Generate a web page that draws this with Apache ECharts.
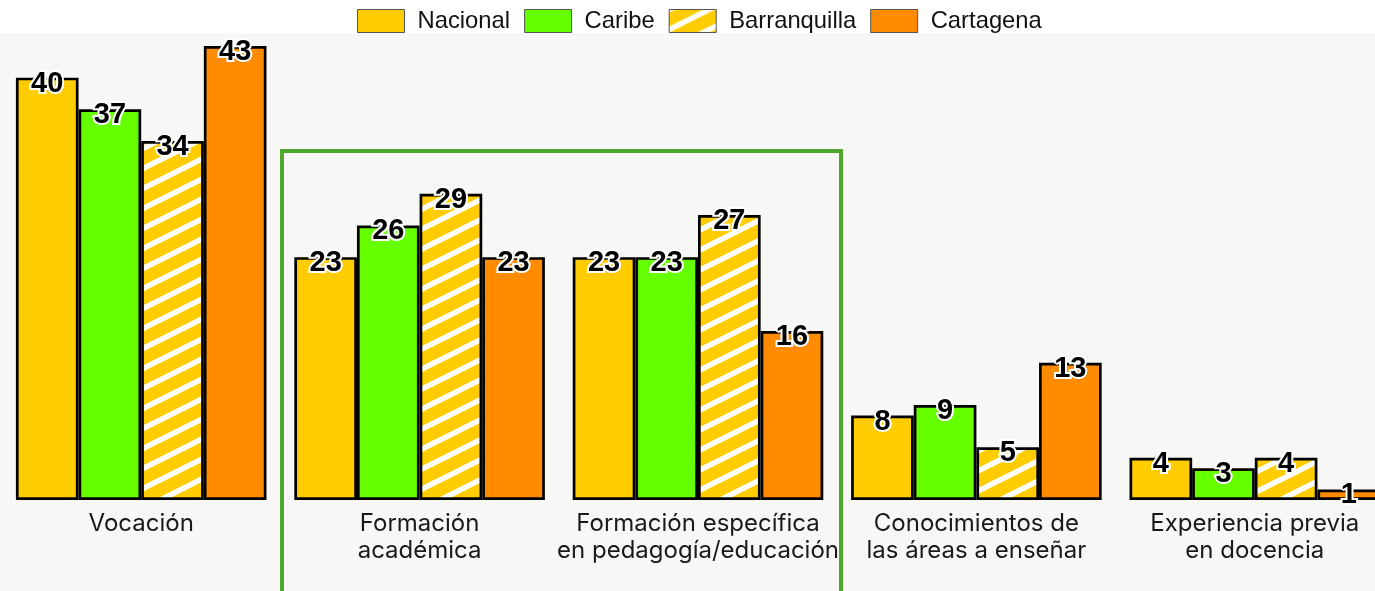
<!DOCTYPE html>
<html>
<head>
<meta charset="utf-8">
<script src="https://cdn.jsdelivr.net/npm/echarts@6/dist/echarts.min.js"></script>
<style>
  html, body { margin: 0; padding: 0; background: #fff; }
  #main { width: 1375px; height: 591px; }
</style>
</head>
<body>
<div id="main"></div>
<script>
var categories = [
  'Vocación',
  'Formación\nacadémica',
  'Formación específica\nen pedagogía/educación',
  'Conocimientos de\nlas áreas a enseñar',
  'Experiencia previa\nen docencia'
];
var nacional = [40, 23, 23, 8, 4];
var caribe = [37, 26, 23, 9, 3];
var barranquilla = [34, 29, 27, 5, 4];
var cartagena = [43, 23, 16, 13, 1];

// yellow with white diagonal stripes for Barranquilla
function stripes() {
  var c = document.createElement('canvas');
  c.width = 40;
  c.height = 20;
  var ctx = c.getContext('2d');
  ctx.fillStyle = '#FFCC00';
  ctx.fillRect(0, 0, 40, 20);
  ctx.strokeStyle = '#ffffff';
  ctx.lineWidth = 5.5;
  for (var k = -2; k <= 3; k++) {
    ctx.beginPath();
    ctx.moveTo(-20, 20 * k + 10);
    ctx.lineTo(60, 20 * k - 30);
    ctx.stroke();
  }
  return c;
}

var myChart = echarts.init(document.getElementById('main'));

var valueLabel = {
  show: true,
  position: ['50%', 0],
  align: 'center',
  verticalAlign: 'middle',
  offset: [0, 6],
  fontFamily: 'Liberation Sans',
  fontWeight: 'bold',
  fontSize: 29,
  color: '#000',
  textBorderColor: '#fff',
  textBorderWidth: 4
};

function bar(name, data, color) {
  return {
    name: name,
    type: 'bar',
    data: data,
    barGap: '0%',
    barCategoryGap: '10%',
    itemStyle: { color: color, borderColor: '#000', borderWidth: 2.7 },
    label: valueLabel
  };
}

var option = {
  backgroundColor: '#ffffff',
  animation: false,
  graphic: [
    {
      type: 'rect',
      z: -10,
      shape: { x: 0, y: 33, width: 1375, height: 560 },
      style: { fill: '#f7f7f6' }
    },
    {
      type: 'rect',
      z: 0,
      shape: { x: 282, y: 151, width: 559, height: 500 },
      style: { fill: 'none', stroke: '#4FA82E', lineWidth: 4 }
    }
  ],
  legend: {
    top: 9,
    left: 357,
    padding: 0,
    icon: 'rect',
    itemWidth: 47,
    itemHeight: 23,
    itemGap: 14,
    textStyle: { fontFamily: 'Liberation Sans', fontSize: 23.8, color: '#111', padding: [0, 0, 0, 8] },
    itemStyle: { borderColor: '#555', borderWidth: 1 },
    data: ['Nacional', 'Caribe', 'Barranquilla', 'Cartagena']
  },
  grid: { left: 2, top: 46, width: 1392, height: 454, outerBoundsMode: 'none', containLabel: false },
  xAxis: {
    type: 'category',
    data: categories,
    axisLine: { show: false },
    axisTick: { show: false },
    axisLabel: {
      interval: 0,
      margin: 10,
      fontFamily: 'Inter',
      fontSize: 24,
      lineHeight: 27,
      color: '#1a1a1a'
    }
  },
  yAxis: {
    type: 'value',
    min: 0,
    max: 43,
    show: false
  },
  series: [
    bar('Nacional', nacional, '#FFCC00'),
    bar('Caribe', caribe, '#66FF00'),
    bar('Barranquilla', barranquilla, { image: stripes(), repeat: 'repeat' }),
    bar('Cartagena', cartagena, '#FF8C00')
  ]
};
myChart.setOption(option);
</script>
</body>
</html>
